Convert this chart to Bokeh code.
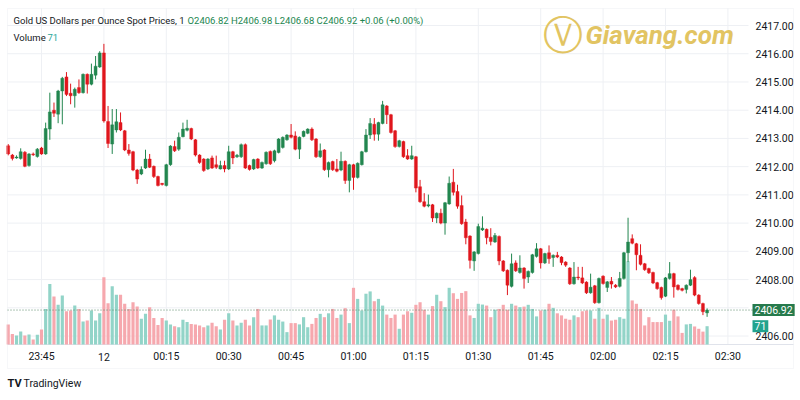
from bokeh.plotting import figure
from bokeh.models import Range1d, Label, BoxAnnotation, ColumnDataSource
from bokeh.embed import file_html
from bokeh.resources import INLINE

# ---------------- data (1-minute candles, minutes relative to 00:00) ----------------
minutes = list(range(-23, 146))

opens = [
    2412.74, 2412.41, 2412.31, 2412.29, 2412.51, 2412.04, 2412.45, 2412.36, 2412.66, 2412.45,
    2413.33, 2414.00, 2413.86, 2414.68, 2415.18, 2414.60, 2414.51, 2414.80, 2414.62, 2415.27,
    2414.92, 2415.24, 2415.53, 2416.03, 2413.60, 2412.80, 2413.30, 2413.56, 2413.27, 2412.59,
    2412.53, 2411.88, 2411.74, 2411.95, 2412.27, 2412.01, 2411.65, 2411.40, 2411.33, 2412.07,
    2412.71, 2412.62, 2413.06, 2413.29, 2413.35, 2412.95, 2412.41, 2412.27, 2411.92, 2412.31,
    2412.07, 2411.92, 2412.04, 2411.92, 2412.53, 2412.35, 2412.35, 2412.78, 2412.04, 2411.92,
    2412.27, 2411.95, 2412.10, 2412.54, 2412.21, 2412.50, 2412.68, 2412.95, 2413.12, 2413.09,
    2412.62, 2413.07, 2413.18, 2413.33, 2412.98, 2412.35, 2412.59, 2411.89, 2412.18, 2411.92,
    2411.88, 2412.19, 2411.51, 2412.07, 2411.62, 2412.07, 2412.53, 2413.12, 2413.50, 2413.15,
    2413.53, 2414.15, 2413.84, 2413.27, 2412.71, 2412.89, 2412.39, 2412.27, 2412.35, 2411.29,
    2410.76, 2410.62, 2410.65, 2410.18, 2410.35, 2410.00, 2410.68, 2411.45, 2411.12, 2410.62,
    2410.04, 2409.54, 2408.66, 2408.92, 2409.76, 2409.78, 2409.50, 2409.33, 2409.53, 2408.66,
    2408.33, 2407.76, 2408.59, 2408.25, 2408.41, 2408.09, 2408.25, 2408.82, 2409.09, 2408.59,
    2408.95, 2408.78, 2408.86, 2408.80, 2408.62, 2408.41, 2407.85, 2408.09, 2408.06, 2407.91,
    2407.53, 2407.78, 2407.18, 2408.12, 2407.72, 2407.94, 2407.80, 2407.76, 2408.04, 2408.95,
    2409.45, 2409.27, 2408.86, 2408.56, 2408.39, 2408.25, 2407.89, 2407.72, 2407.41, 2408.04,
    2408.21, 2407.80, 2407.68, 2407.65, 2407.80, 2408.07, 2407.45, 2407.15, 2406.82,
]
highs = [
    2412.80, 2412.45, 2412.40, 2412.65, 2412.55, 2412.48, 2412.50, 2412.66, 2412.70, 2413.56,
    2414.62, 2414.27, 2414.72, 2415.18, 2415.35, 2414.94, 2414.80, 2415.09, 2415.30, 2415.30,
    2415.65, 2415.92, 2416.09, 2416.35, 2414.15, 2414.04, 2414.04, 2413.92, 2413.30, 2412.80,
    2412.56, 2411.92, 2412.01, 2412.60, 2412.45, 2412.04, 2411.68, 2411.42, 2412.10, 2412.76,
    2412.92, 2413.21, 2413.56, 2413.66, 2413.38, 2412.98, 2412.44, 2412.30, 2412.30, 2412.39,
    2412.39, 2412.21, 2412.21, 2412.74, 2412.56, 2412.45, 2412.82, 2412.82, 2412.07, 2412.28,
    2412.30, 2412.18, 2412.54, 2412.57, 2412.60, 2413.01, 2413.07, 2413.15, 2413.51, 2413.25,
    2413.07, 2413.28, 2413.36, 2413.39, 2413.01, 2412.82, 2412.62, 2412.18, 2412.21, 2412.27,
    2412.53, 2412.22, 2412.10, 2412.10, 2412.15, 2412.56, 2413.33, 2413.72, 2413.72, 2413.59,
    2414.33, 2414.18, 2413.87, 2413.30, 2412.95, 2412.92, 2412.62, 2412.74, 2412.38, 2411.53,
    2411.06, 2411.01, 2410.68, 2410.38, 2410.51, 2410.75, 2411.65, 2411.92, 2411.36, 2410.98,
    2410.15, 2409.57, 2409.01, 2409.98, 2410.24, 2409.81, 2409.82, 2409.65, 2409.56, 2408.69,
    2408.36, 2408.92, 2408.68, 2408.86, 2408.44, 2408.32, 2408.91, 2409.29, 2409.12, 2408.95,
    2409.21, 2408.89, 2408.98, 2408.83, 2408.65, 2408.44, 2408.62, 2408.45, 2408.45, 2407.94,
    2408.21, 2407.81, 2408.07, 2408.15, 2407.95, 2408.09, 2407.84, 2408.27, 2408.98, 2410.19,
    2409.60, 2409.30, 2409.25, 2408.59, 2408.42, 2408.28, 2407.92, 2407.75, 2408.09, 2408.62,
    2408.24, 2407.83, 2407.71, 2407.83, 2408.35, 2408.12, 2407.48, 2407.18, 2406.98,
]
lows = [
    2412.40, 2412.22, 2412.28, 2412.25, 2411.98, 2412.00, 2412.38, 2412.32, 2412.42, 2412.42,
    2412.95, 2413.76, 2413.54, 2413.50, 2414.50, 2414.21, 2414.09, 2414.58, 2414.59, 2414.59,
    2414.88, 2415.09, 2415.50, 2413.56, 2412.66, 2412.45, 2413.21, 2413.26, 2412.55, 2412.39,
    2411.84, 2411.39, 2411.70, 2411.92, 2411.95, 2411.60, 2411.30, 2411.33, 2411.30, 2412.03,
    2412.52, 2412.56, 2413.04, 2413.25, 2412.94, 2412.36, 2412.10, 2411.82, 2411.88, 2411.92,
    2411.92, 2411.90, 2411.80, 2411.88, 2412.09, 2412.31, 2412.31, 2411.92, 2411.86, 2411.88,
    2411.92, 2411.92, 2412.07, 2412.06, 2412.15, 2412.47, 2412.64, 2412.92, 2413.00, 2412.58,
    2412.27, 2413.04, 2413.15, 2412.91, 2412.31, 2412.31, 2411.85, 2411.62, 2411.85, 2411.80,
    2411.84, 2411.39, 2411.09, 2411.18, 2411.58, 2412.04, 2412.50, 2412.98, 2412.92, 2412.92,
    2413.50, 2413.51, 2413.17, 2412.67, 2412.68, 2412.31, 2412.24, 2412.24, 2411.09, 2410.72,
    2410.56, 2410.56, 2410.04, 2410.00, 2409.96, 2409.59, 2410.65, 2410.98, 2410.51, 2409.94,
    2409.25, 2408.39, 2408.31, 2408.89, 2409.72, 2409.25, 2409.21, 2409.30, 2408.51, 2408.27,
    2407.45, 2407.72, 2408.27, 2408.21, 2407.68, 2407.88, 2408.21, 2408.78, 2408.39, 2408.55,
    2408.56, 2408.45, 2408.76, 2408.51, 2408.45, 2407.81, 2407.82, 2407.98, 2407.84, 2407.49,
    2407.50, 2407.14, 2407.15, 2407.82, 2407.56, 2407.68, 2407.70, 2407.72, 2408.00, 2408.62,
    2409.25, 2408.33, 2408.50, 2408.31, 2408.20, 2407.84, 2407.64, 2407.29, 2407.38, 2408.00,
    2407.36, 2407.61, 2407.58, 2407.51, 2407.77, 2407.41, 2407.11, 2406.74, 2406.68,
]
closes = [
    2412.45, 2412.29, 2412.34, 2412.53, 2412.01, 2412.45, 2412.42, 2412.62, 2412.45, 2413.35,
    2413.94, 2413.89, 2414.68, 2415.13, 2414.56, 2414.51, 2414.74, 2414.62, 2415.27, 2414.92,
    2415.27, 2415.56, 2416.03, 2413.62, 2412.82, 2413.48, 2413.59, 2413.30, 2412.59, 2412.47,
    2411.88, 2411.56, 2411.90, 2412.27, 2411.98, 2411.65, 2411.33, 2411.38, 2412.07, 2412.73,
    2412.56, 2413.04, 2413.33, 2413.36, 2412.98, 2412.41, 2412.15, 2411.86, 2412.27, 2411.95,
    2411.98, 2412.04, 2411.92, 2412.53, 2412.31, 2412.40, 2412.78, 2411.95, 2411.90, 2412.25,
    2411.95, 2412.15, 2412.51, 2412.10, 2412.56, 2412.98, 2413.04, 2413.12, 2413.04, 2412.62,
    2413.04, 2413.25, 2413.33, 2412.95, 2412.35, 2412.56, 2411.89, 2412.15, 2411.89, 2411.84,
    2412.19, 2411.51, 2412.07, 2411.62, 2412.12, 2412.53, 2413.12, 2413.53, 2413.15, 2413.56,
    2414.19, 2413.84, 2413.21, 2412.71, 2412.92, 2412.35, 2412.27, 2412.39, 2411.24, 2410.76,
    2410.60, 2410.64, 2410.18, 2410.35, 2410.00, 2410.72, 2411.41, 2411.09, 2410.60, 2409.98,
    2409.48, 2408.68, 2408.98, 2409.88, 2409.82, 2409.48, 2409.35, 2409.56, 2408.66, 2408.31,
    2407.80, 2408.56, 2408.31, 2408.41, 2408.04, 2408.29, 2408.88, 2409.09, 2408.59, 2408.92,
    2408.74, 2408.86, 2408.80, 2408.60, 2408.51, 2407.85, 2408.09, 2408.06, 2407.88, 2407.53,
    2407.73, 2407.18, 2408.04, 2407.86, 2407.92, 2407.84, 2407.74, 2408.04, 2408.95, 2409.33,
    2409.29, 2408.88, 2408.54, 2408.35, 2408.24, 2407.88, 2407.68, 2407.36, 2408.06, 2408.21,
    2407.74, 2407.65, 2407.62, 2407.80, 2408.00, 2407.45, 2407.15, 2406.86, 2406.92,
]
volumes = [
    78, 41, 35, 50, 35, 39, 19, 38, 58, 138,
    235, 186, 154, 190, 129, 132, 151, 138, 89, 93,
    132, 93, 121, 261, 160, 226, 193, 193, 158, 138,
    164, 147, 100, 119, 145, 103, 76, 103, 93, 78,
    71, 67, 96, 87, 80, 78, 74, 67, 74, 84,
    71, 58, 96, 121, 93, 74, 84, 96, 74, 106,
    138, 74, 74, 97, 113, 96, 89, 48, 83, 83,
    78, 106, 67, 80, 103, 119, 106, 121, 138, 103,
    116, 141, 83, 220, 177, 132, 197, 206, 168, 177,
    151, 116, 103, 116, 61, 116, 129, 123, 154, 164,
    135, 116, 149, 193, 168, 145, 220, 199, 177, 200,
    207, 113, 103, 158, 155, 151, 106, 135, 138, 154,
    135, 158, 151, 145, 147, 154, 138, 109, 132, 135,
    158, 142, 121, 113, 100, 96, 113, 106, 129, 132,
    132, 100, 142, 100, 116, 93, 96, 106, 100, 323,
    171, 158, 138, 74, 106, 87, 87, 87, 116, 92,
    135, 109, 45, 78, 80, 70, 61, 50, 71,
]

tick_minutes = [-15, 0, 15, 30, 45, 60, 75, 90, 105, 120, 135, 150]
tick_labels = ["23:45", "12", "00:15", "00:30", "00:45", "01:00", "01:15",
               "01:30", "01:45", "02:00", "02:15", "02:30"]
price_ticks = [2406, 2408, 2409, 2410, 2411, 2412, 2413, 2414, 2415, 2416, 2417]
grid_levels = [2406, 2407, 2408, 2409, 2410, 2411, 2412, 2413, 2414, 2415, 2416, 2417]

# ---------------- layout: the frame is the whole 800x400 canvas ----------------
W, H = 800, 400
PX_MIN = 4.16          # pixels per minute
X_REF_PX, X_REF = 41, -15
PX_USD = 28.23         # pixels per dollar
Y_REF_PX, Y_REF = 25, 2417.0
VOL_BASE_PX, VOL_PER_PX = 344, 3.88
PANE_L, PANE_R, PANE_T, PANE_B = 7, 748, 8, 344


def xd(px):
    return X_REF + (px - X_REF_PX) / PX_MIN


def yd(py):
    return Y_REF - (py - Y_REF_PX) / PX_USD


UP, DOWN = "#22864f", "#e0161d"
VUP, VDOWN = "#92d4c8", "#f6a8ae"
FONT = "Roboto"
TXT = "#131722"
GRID = "#eef0f4"

up = [c >= o for o, c in zip(opens, closes)]
src = ColumnDataSource(dict(
    t=minutes, o=opens, h=highs, l=lows, c=closes, v=volumes,
    btop=[max(o, c) + (0.012 if abs(c - o) < 0.02 else 0) for o, c in zip(opens, closes)],
    bbot=[min(o, c) - (0.012 if abs(c - o) < 0.02 else 0) for o, c in zip(opens, closes)],
    color=[UP if u else DOWN for u in up],
    vcolor=[VUP if u else VDOWN for u in up],
))

p = figure(width=W, height=H, x_range=Range1d(xd(0), xd(W)), y_range=Range1d(yd(H), yd(0)),
           x_axis_location=None, y_axis_location=None,
           output_backend="svg", toolbar_location=None, min_border=0)
p.extra_y_ranges = {"vol": Range1d(-(H - VOL_BASE_PX) * VOL_PER_PX, VOL_BASE_PX * VOL_PER_PX)}
p.outline_line_color = None
p.grid.visible = False
p.background_fill_color = "white"
p.border_fill_color = "white"

# grid lines of the price pane
p.segment(x0=[xd(PANE_L)] * len(grid_levels), x1=[xd(PANE_R)] * len(grid_levels),
          y0=grid_levels, y1=grid_levels, line_color=GRID, line_width=1, level="underlay")
p.segment(x0=tick_minutes, x1=tick_minutes, y0=[yd(PANE_B)] * len(tick_minutes),
          y1=[yd(PANE_T)] * len(tick_minutes), line_color=GRID, line_width=1, level="underlay")
# pane / time-scale separator
p.segment(x0=[xd(PANE_L)], x1=[xd(793)], y0=[yd(PANE_B)], y1=[yd(PANE_B)],
          line_color="#e0e3eb", line_width=1, level="underlay")

# volume
p.vbar(x="t", top="v", bottom=0, width=0.76, fill_color="vcolor", line_color=None,
       y_range_name="vol", source=src)

# last price dotted line
p.segment(x0=[xd(PANE_L)], x1=[xd(PANE_R + 4)], y0=[closes[-1]], y1=[closes[-1]],
          line_color="#5b8c6c", line_dash="1 2", line_width=1)

# candles
p.segment(x0="t", y0="l", x1="t", y1="h", line_color="color", line_width=1, source=src)
p.vbar(x="t", top="btop", bottom="bbot", width=0.72, fill_color="color",
       line_color="color", line_width=0.4, source=src)

# time scale labels
p.text(x=tick_minutes, y=[yd(356)] * len(tick_minutes), text=tick_labels,
       text_align="center", text_baseline="middle", text_font_size="10.5px",
       text_color=TXT, text_font={"value": FONT})
# price scale labels
p.text(x=[xd(755)] * len(price_ticks), y=price_ticks,
       text=["%.2f" % v for v in price_ticks],
       text_align="left", text_baseline="middle", text_font_size="10.5px",
       text_color=TXT, text_font={"value": FONT})

# outer frame of the widget
p.add_layout(BoxAnnotation(left=7, right=793, top=H - 8, bottom=H - 368,
                           left_units="screen", right_units="screen",
                           top_units="screen", bottom_units="screen",
                           fill_color=None, line_color="#e0e3eb", line_width=1))


def lab(x, y, text, color=TXT, size="10px", font=FONT, style="normal", **kw):
    p.add_layout(Label(x=x, y=H - y, x_units="screen", y_units="screen", text=text,
                       text_color=color, text_font_size=size, text_font=font,
                       text_font_style=style, text_baseline="middle", **kw))


# header (legend lines)
chg = closes[-1] - closes[-2]
lab(13, 20, "Gold US Dollars per Ounce Spot Prices, 1", size="9.5px")
lab(187, 20, "O%.2f H%.2f L%.2f C%.2f %+.2f (%+.2f%%)"
    % (opens[-1], highs[-1], lows[-1], closes[-1], chg, chg / closes[-2] * 100),
    color=UP, size="9.5px")
lab(13, 37, "Volume", size="9.5px")
lab(47, 37, "%d" % volumes[-1], color="#26a69a", size="9.5px")

# watermark logo
lab(562, 34, "\u24cb", color="#e2c462", size="40px", font="DejaVu Sans", text_align="center")
lab(585, 34, "Giavang.com", color="#e2c462", size="26px", style="bold italic")

# TradingView footer
lab(7, 383, "TV", size="11px", style="bold")
lab(23, 383, "TradingView", size="10.5px")

# price / volume scale labels
p.add_layout(Label(x=752, y=closes[-1], x_units="screen", text="%.2f" % closes[-1],
                   text_color="white", text_font=FONT, text_font_size="10.5px",
                   text_baseline="middle", background_fill_color="#267a4c", padding=2))
p.add_layout(Label(x=752, y=volumes[-1], x_units="screen", y_range_name="vol",
                   text="%d" % volumes[-1], text_color="white", text_font=FONT,
                   text_font_size="10.5px", text_baseline="middle",
                   background_fill_color="#22a38e", padding=2))

open("out.html", "w").write(file_html(p, INLINE))
